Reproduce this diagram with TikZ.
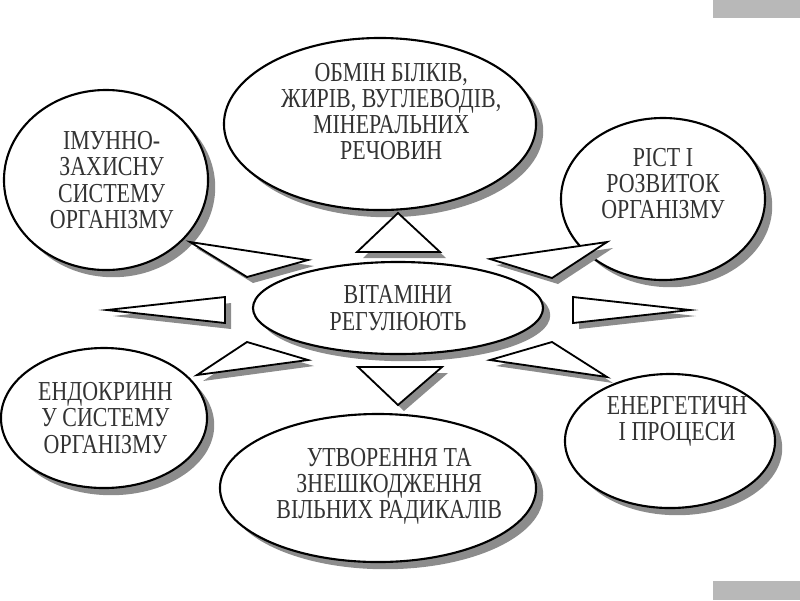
\documentclass[tikz,border=0pt]{standalone}
\usepackage{fontspec}
\setmainfont{Liberation Serif}[FakeStretch=0.8]
\usetikzlibrary{shapes.geometric, shadows}

\begin{document}
\begin{tikzpicture}[x=0.025cm, y=-0.025cm,
    every node/.style={font=\fontsize{19.5}{18.6}\selectfont, text=black!80},
    oval/.style={ellipse, draw=black, line width=1.5pt, fill=white, inner sep=0pt,
                 drop shadow={shadow xshift=0.18cm, shadow yshift=-0.18cm,
                              fill=black!45, opacity=1}},
    caption/.style={align=center, inner sep=0pt},
    wedge/.style={draw=black, line width=1.3pt, fill=white, line join=miter},
    wedgeshadow/.style={fill=black!45},
    tab/.style={fill=black!28},
  ]
    \useasboundingbox (0,0) rectangle (800,600);
    % slide corner tabs
    \fill[tab] (713,0) rectangle (800,18);
    \fill[tab] (713,581) rectangle (800,600);
    % outer ovals
    \node[oval, minimum width=7.8cm, minimum height=4.3cm] (met) at (380,124) {};
    \node[oval, minimum width=5.1cm, minimum height=4.5cm] (imm) at (106,180) {};
    \node[oval, minimum width=5.1cm, minimum height=4.05cm] (grow) at (663,199) {};
    \node[oval, minimum width=5.15cm, minimum height=3.5cm] (endo) at (104,418) {};
    \node[oval, minimum width=5.25cm, minimum height=3.35cm] (energy) at (670,441) {};
    \node[oval, minimum width=7.9cm, minimum height=3.7cm] (rad) at (378,488) {};
    % centre oval
    \node[oval, minimum width=7.25cm, minimum height=2.3cm] (vit) at (398,308) {};
    % texts
    \node[caption, xshift=8pt, yshift=9pt] (metT) at (met)
      {ОБМІН БІЛКІВ,\\ЖИРІВ, ВУГЛЕВОДІВ,\\МІНЕРАЛЬНИХ\\РЕЧОВИН};
    \node[caption, xshift=4pt] (immT) at (imm)
      {ІМУННО-\\ЗАХИСНУ\\СИСТЕМУ\\ОРГАНІЗМУ};
    \node[caption, yshift=11pt] (growT) at (grow)
      {РІСТ І\\РОЗВИТОК\\ОРГАНІЗМУ};
    \node[caption, xshift=1pt] (endoT) at (endo)
      {ЕНДОКРИНН\\У СИСТЕМУ\\ОРГАНІЗМУ};
    \node[caption, xshift=5pt, yshift=14pt] (energyT) at (energy)
      {ЕНЕРГЕТИЧН\\І ПРОЦЕСИ};
    \node[caption, xshift=8pt, yshift=1pt] (radT) at (rad)
      {УТВОРЕННЯ ТА\\ЗНЕШКОДЖЕННЯ\\ВІЛЬНИХ РАДИКАЛІВ};
    \node[caption] (vitT) at (vit) {ВІТАМІНИ\\РЕГУЛЮЮТЬ};
    % wedges pointing out from the centre
    \foreach \ax/\ay/\bx/\by/\cx/\cy in {%
      398/213/357/252/440/252, 398/405/358/367/442/367,
      107/310/225/297/225/323, 690/310/573/297/573/323,
      190/242/308/260/247/277, 197/375/247/342/308/360,
      607/242/490/259/552/278, 607/377/490/360/552/342} {
        \fill[wedgeshadow, shift={(6,6)}] (\ax,\ay) -- (\bx,\by) -- (\cx,\cy) -- cycle;
        \draw[wedge] (\ax,\ay) -- (\bx,\by) -- (\cx,\cy) -- cycle;
      }
  \end{tikzpicture}
\end{document}
